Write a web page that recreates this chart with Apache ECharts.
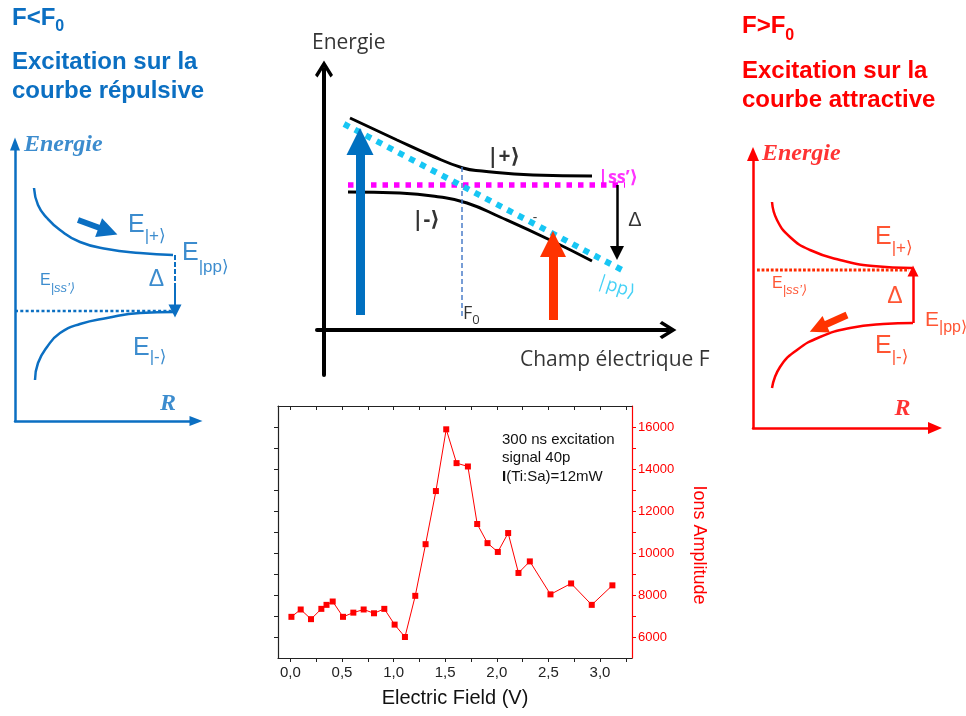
<!DOCTYPE html>
<html><head><meta charset="utf-8">
<script src="https://cdn.jsdelivr.net/npm/echarts@6/dist/echarts.min.js"></script>
<style>html,body{margin:0;padding:0;background:#fff}#c{width:966px;height:716px}</style>
</head><body><div id="c"></div><script>
// ===== measured data of the ion-signal chart =====
const fieldV = [0.01,0.10,0.20,0.30,0.35,0.41,0.51,0.61,0.71,0.81,0.91,1.01,1.11,1.21,1.31,1.41,1.51,1.61,1.72,1.81,1.91,2.01,2.11,2.21,2.32,2.52,2.72,2.92,3.12];
const ionsAmp = [6960,7310,6850,7340,7530,7690,6960,7160,7310,7130,7340,6590,6000,7960,10420,12950,15890,14280,14120,11380,10470,10050,10950,9050,9600,8030,8550,7530,8460];
const xLabelVals = [0,0.5,1,1.5,2,2.5,3];
const xTickVals = [0,0.25,0.5,0.75,1,1.25,1.5,1.75,2,2.25,2.5,2.75,3,3.25];
const yLabelVals = [6000,8000,10000,12000,14000,16000];
const yTickVals = [6000,7000,8000,9000,10000,11000,12000,13000,14000,15000,16000];

// ===== schematic diagrams (diagram units) =====
// left diagram: F < F0
const leftUpper = [[19,233],[23,216],[32,203],[45,191],[65,179],[92,172],[125,168],[158,166]];
const leftLower = [[20,41],[23,58],[32,74],[45,88],[65,97],[92,103],[125,108],[160,109]];
const leftSs = [[0,110],[157,110]];
const leftGapDash = [[160,166],[160,138]];
const leftGapArrow = [[160,138],[160,110]];
const leftPush = [[63,201],[93,190]];
const leftLabelPos = [[113,196],[167,168],[141.5,141.5],[25,140],[118,73],[9,276],[153,17]];
// centre diagram: energies vs field
const cUpper = [[26,212],[73,190],[106,175],[139,162],[158,159],[209,155],[268,154]];
const cLower = [[24,138],[76,137],[116,133],[143,127],[176,113],[226,90],[268,69]];
const cSs = [[24,145],[301,145]];
const cPp = [[20,206],[300,59]];
const cF0 = [[138,163],[138,12]];
const cBlueArrow = [[36,15],[36,188.5]];
const cRedArrow = [[229,10],[229,86]];
const cDelta = [[293,145],[293,77]];
const cLabelPos = [[163,172.5],[88,110],[274,152.5],[292,43],[311,109.5],[139,16.5],[211,112],[-12,286.5],[196,-30]];
// right diagram: F > F0
const rUpper = [[19,226],[24,208],[37,191],[57,178],[87,168],[120,162],[159,160]];
const rLower = [[19,40],[27,61],[44,78],[67,91],[97,100],[130,104],[160,105]];
const rSs = [[4,158],[156,158]];
const rDelta = [[160,105],[160,157]];
const rPush = [[94,113],[65,100]];
const rLabelPos = [[122,191],[19,144.5],[142,131.5],[172,107.5],[122,82],[9,274],[149.5,19]];

// ===== styles =====
const SANS = '"Liberation Sans", Arial, "DejaVu Sans", sans-serif';
const SERIF = '"Liberation Serif", "Times New Roman", serif';
const CAL = '"Open Sans", "DejaVu Sans", sans-serif';
const BLUE = '#0b6fc2', RED = '#ff0000', ORED = '#ff2a00', ORANGE = '#ff3300', MAG = '#ff00ff', CYAN = '#17c6f4', DARK = '#222';

const chart = echarts.init(document.getElementById('c'), null, {renderer: 'canvas'});

function lineS(i, data, color, width, type, smooth) {
  return {type: 'line', xAxisIndex: i, yAxisIndex: i, data: data, symbol: 'none', showSymbol: false,
    smooth: smooth ? 0.5 : false, silent: true, z: 3,
    lineStyle: {color: color, width: width, type: type || 'solid', cap: 'butt'}};
}
function arrowS(i, coords, color, width, size) {
  return {type: 'lines', coordinateSystem: 'cartesian2d', xAxisIndex: i, yAxisIndex: i,
    symbol: ['none', 'triangle'], symbolSize: size, silent: true, z: 5,
    lineStyle: {color: color, width: width, opacity: 1, cap: 'butt'},
    data: [{coords: coords}]};
}
function sub(size, pad, c, fam, italic) {
  return {fontSize: size, lineHeight: size, padding: [pad, 0, 0, 0], color: c, fontFamily: fam, fontStyle: italic ? 'italic' : 'normal'};
}
function richFor(c) {
  return {
    E: {fontSize: 25, lineHeight: 25, color: c, fontFamily: SANS},
    Em: {fontSize: 21, lineHeight: 21, color: c, fontFamily: SANS},
    Es: {fontSize: 16, lineHeight: 16, color: c, fontFamily: SANS},
    s18: sub(17, 18, c, SANS), s22: sub(17, 22, c, SANS), s23: sub(17, 23, c, SANS), s28: sub(17, 28, c, SANS),
    sp15: sub(16, 15, c, SANS),
    ss13: sub(13, 13, c, SANS, true), ss14: sub(13, 14, c, SANS, true),
    d: {fontSize: 23, color: c, fontFamily: SANS},
    en: {fontSize: 24, fontWeight: 'bold', fontStyle: 'italic', fontFamily: SERIF, color: c}
  };
}
function labelS(i, pos, texts, extra, rich) {
  return {type: 'scatter', xAxisIndex: i, yAxisIndex: i, symbolSize: 0, clip: false, silent: true, z: 10,
    itemStyle: {color: 'transparent'}, emphasis: {disabled: true},
    label: {show: true, position: 'inside', align: 'left', verticalAlign: 'middle', formatter: p => p.name, rich: rich},
    data: pos.map((p, k) => ({value: p, name: texts[k], label: extra[k] || {}}))};
}
function diagX(g, min, max, color, width, sym, size) {
  return {gridIndex: g, type: 'value', min: min, max: max,
    axisLine: {show: true, onZero: true, symbol: ['none', sym], symbolSize: size, lineStyle: {color: color, width: width}},
    axisTick: {show: false}, axisLabel: {show: false}, splitLine: {show: false}};
}
const CHEV = 'path://M0,14.5 L9,0 L18,14.5 L15.5,17 L9,6.5 L2.5,17 Z';

const option = {
  animation: false,
  backgroundColor: '#fff',
  grid: [
    {left: 278, top: 406, width: 354, height: 252},
    {left: 15, top: 144, width: 181, height: 277},
    {left: 317, top: 69, width: 351, height: 306},
    {left: 753, top: 154, width: 182, height: 274}
  ],
  xAxis: [
    {gridIndex: 0, type: 'value', min: -0.12, max: 3.31, position: 'bottom',
      axisLine: {show: true, onZero: false, lineStyle: {color: DARK, width: 1.2}},
      axisTick: {show: true, inside: false, length: 4, customValues: xTickVals, lineStyle: {color: DARK}},
      axisLabel: {show: true, customValues: xLabelVals, formatter: v => v.toFixed(1).replace('.', ','), fontSize: 15, color: DARK, margin: 7, fontFamily: SANS},
      splitLine: {show: false},
      name: 'Electric Field (V)', nameLocation: 'middle', nameGap: 30,
      nameTextStyle: {fontSize: 20, color: '#111', fontFamily: SANS}},
    {gridIndex: 0, type: 'value', min: -0.12, max: 3.31, position: 'top',
      axisLine: {show: true, onZero: false, lineStyle: {color: DARK, width: 1.2}},
      axisTick: {show: true, inside: true, length: 4, customValues: xTickVals, lineStyle: {color: DARK}},
      axisLabel: {show: false}, splitLine: {show: false}},
    diagX(1, 0, 181, BLUE, 2.5, 'triangle', [10, 13]),
    diagX(2, -7, 344, '#000', 4, CHEV, [18, 18]),
    diagX(3, 0, 182, RED, 2.5, 'triangle', [12, 14])
  ],
  yAxis: [
    {gridIndex: 0, type: 'value', min: 5000, max: 17000, position: 'right',
      axisLine: {show: true, onZero: false, lineStyle: {color: RED, width: 1.2}},
      axisTick: {show: true, inside: false, length: 4, customValues: yTickVals, lineStyle: {color: RED}},
      axisLabel: {show: true, customValues: yLabelVals, formatter: v => String(v), fontSize: 13, color: RED, margin: 6, fontFamily: SANS},
      splitLine: {show: false},
      name: 'Ions Amplitude', nameLocation: 'middle', nameRotate: -90, nameGap: 58,
      nameTextStyle: {fontSize: 18, color: RED, fontFamily: SANS, padding: [0, 0, 0, 26]}},
    {gridIndex: 0, type: 'value', min: 5000, max: 17000, position: 'left',
      axisLine: {show: true, onZero: false, lineStyle: {color: DARK, width: 1.2}},
      axisTick: {show: true, inside: false, length: 4, customValues: yTickVals, lineStyle: {color: DARK}},
      axisLabel: {show: false}, splitLine: {show: false}},
    diagX(1, 0, 277, BLUE, 2.5, 'triangle', [10, 13]),
    diagX(2, -45, 261, '#000', 4, CHEV, [18, 18]),
    diagX(3, 0, 274, RED, 2.5, 'triangle', [12, 14])
  ],
  graphic: [
    {type: 'text', x: 12, y: 18.5, style: {text: '{a|F<F}{b|0}', verticalAlign: 'middle', rich: {
      a: {fontSize: 24, lineHeight: 24, fontWeight: 'bold', fontFamily: SANS, fill: BLUE},
      b: {fontSize: 16, lineHeight: 16, padding: [16, 0, 0, 0], fontWeight: 'bold', fontFamily: SANS, fill: BLUE}}}},
    {type: 'text', x: 12, y: 48, style: {text: 'Excitation sur la\ncourbe répulsive', fontSize: 24, fontWeight: 'bold', fontFamily: SANS, fill: BLUE, lineHeight: 29, verticalAlign: 'top'}},
    {type: 'text', x: 742, y: 26.5, style: {text: '{a|F>F}{b|0}', verticalAlign: 'middle', rich: {
      a: {fontSize: 24, lineHeight: 24, fontWeight: 'bold', fontFamily: SANS, fill: RED},
      b: {fontSize: 16, lineHeight: 16, padding: [19, 0, 0, 0], fontWeight: 'bold', fontFamily: SANS, fill: RED}}}},
    {type: 'text', x: 742, y: 57, style: {text: 'Excitation sur la\ncourbe attractive', fontSize: 24, fontWeight: 'bold', fontFamily: SANS, fill: RED, lineHeight: 29, verticalAlign: 'top'}},
    {type: 'text', x: 502, y: 458, style: {text: '300 ns excitation\nsignal 40p\n{b|I}(Ti:Sa)=12mW', fontSize: 15, lineHeight: 18.5, fontFamily: SANS, fill: '#111', verticalAlign: 'middle',
      rich: {b: {fontSize: 15, lineHeight: 18.5, fontWeight: 'bold', fontFamily: SANS, fill: '#111'}}}}
  ],
  series: [
    // ion signal
    {type: 'line', xAxisIndex: 0, yAxisIndex: 0, data: fieldV.map((x, i) => [x, ionsAmp[i]]),
      symbol: 'rect', symbolSize: 6, itemStyle: {color: RED}, lineStyle: {color: RED, width: 1}, z: 4},
    // left diagram
    lineS(2, leftUpper, BLUE, 2.5, 'solid', true),
    lineS(2, leftLower, BLUE, 2.5, 'solid', true),
    lineS(2, leftSs, BLUE, 2.5, [3, 2.3]),
    lineS(2, leftGapDash, BLUE, 2, [5, 2]),
    arrowS(2, leftGapArrow, BLUE, 2, [14, 13]),
    arrowS(2, leftPush, BLUE, 6, [17, 20]),
    labelS(2, leftLabelPos,
      ['{E|E}{s22||+⟩}', '{E|E}{s28||pp⟩}', '{d|Δ}', '{Es|E}{ss14||ss’⟩}', '{E|E}{s18||-⟩}', '{en|Energie}', '{en|R}'],
      [null, null, {align: 'center'}, null, null, null, {align: 'center'}], richFor(BLUE)),
    // centre diagram
    lineS(3, cUpper, '#000', 3, 'solid', true),
    lineS(3, cLower, '#000', 3, 'solid', true),
    lineS(3, cSs, MAG, 5.5, [5.5, 6]),
    lineS(3, cPp, CYAN, 6, [6, 6.3]),
    lineS(3, cF0, '#4a7cc8', 1.5, [5, 3]),
    arrowS(3, cDelta, '#000', 2.5, [11, 14]),
    arrowS(3, cBlueArrow, '#0070c0', 9, [27, 27]),
    arrowS(3, cRedArrow, ORANGE, 9, [26, 26]),
    labelS(3, cLabelPos,
      ['{k||+⟩}', '{k||-⟩}', '{ss||ss’⟩}', '{pp||pp⟩}', '{d|Δ}', '{f|F}{o|0}', '{sm|-}', '{t|Energie}', '{t|Champ électrique F}'],
      [null, null, null, {align: 'center', rotate: -18}, {align: 'center'}, null, {align: 'center'}, null, null],
      {
        k: {fontSize: 21, fontWeight: 'bold', color: '#000', fontFamily: CAL},
        ss: {fontSize: 18, fontWeight: 'bold', color: MAG, fontFamily: CAL},
        pp: {fontSize: 18, color: CYAN, fontFamily: CAL},
        d: {fontSize: 20, color: '#000', fontFamily: SANS},
        f: {fontSize: 18, lineHeight: 18, color: '#000', fontFamily: CAL},
        o: {fontSize: 13, lineHeight: 13, padding: [13, 0, 0, 0], color: '#000', fontFamily: CAL},
        sm: {fontSize: 14, color: '#000', fontFamily: CAL},
        t: {fontSize: 21, color: '#000', fontFamily: CAL}
      }),
    // right diagram
    lineS(4, rUpper, RED, 2.5, 'solid', true),
    lineS(4, rLower, RED, 2.5, 'solid', true),
    lineS(4, rSs, ORED, 2.8, [2.8, 1.8]),
    arrowS(4, rDelta, RED, 2.5, [12, 11]),
    arrowS(4, rPush, ORANGE, 7, [16, 18]),
    labelS(4, rLabelPos,
      ['{E|E}{s23||+⟩}', '{Es|E}{ss13||ss’⟩}', '{d|Δ}', '{Em|E}{sp15||pp⟩}', '{E|E}{s22||-⟩}', '{en|Energie}', '{en|R}'],
      [null, null, {align: 'center'}, null, null, null, {align: 'center'}],
      Object.assign(richFor(ORED), {en: {fontSize: 24, fontWeight: 'bold', fontStyle: 'italic', fontFamily: SERIF, color: RED}}))
  ]
};
chart.setOption(option);
</script></body></html>
